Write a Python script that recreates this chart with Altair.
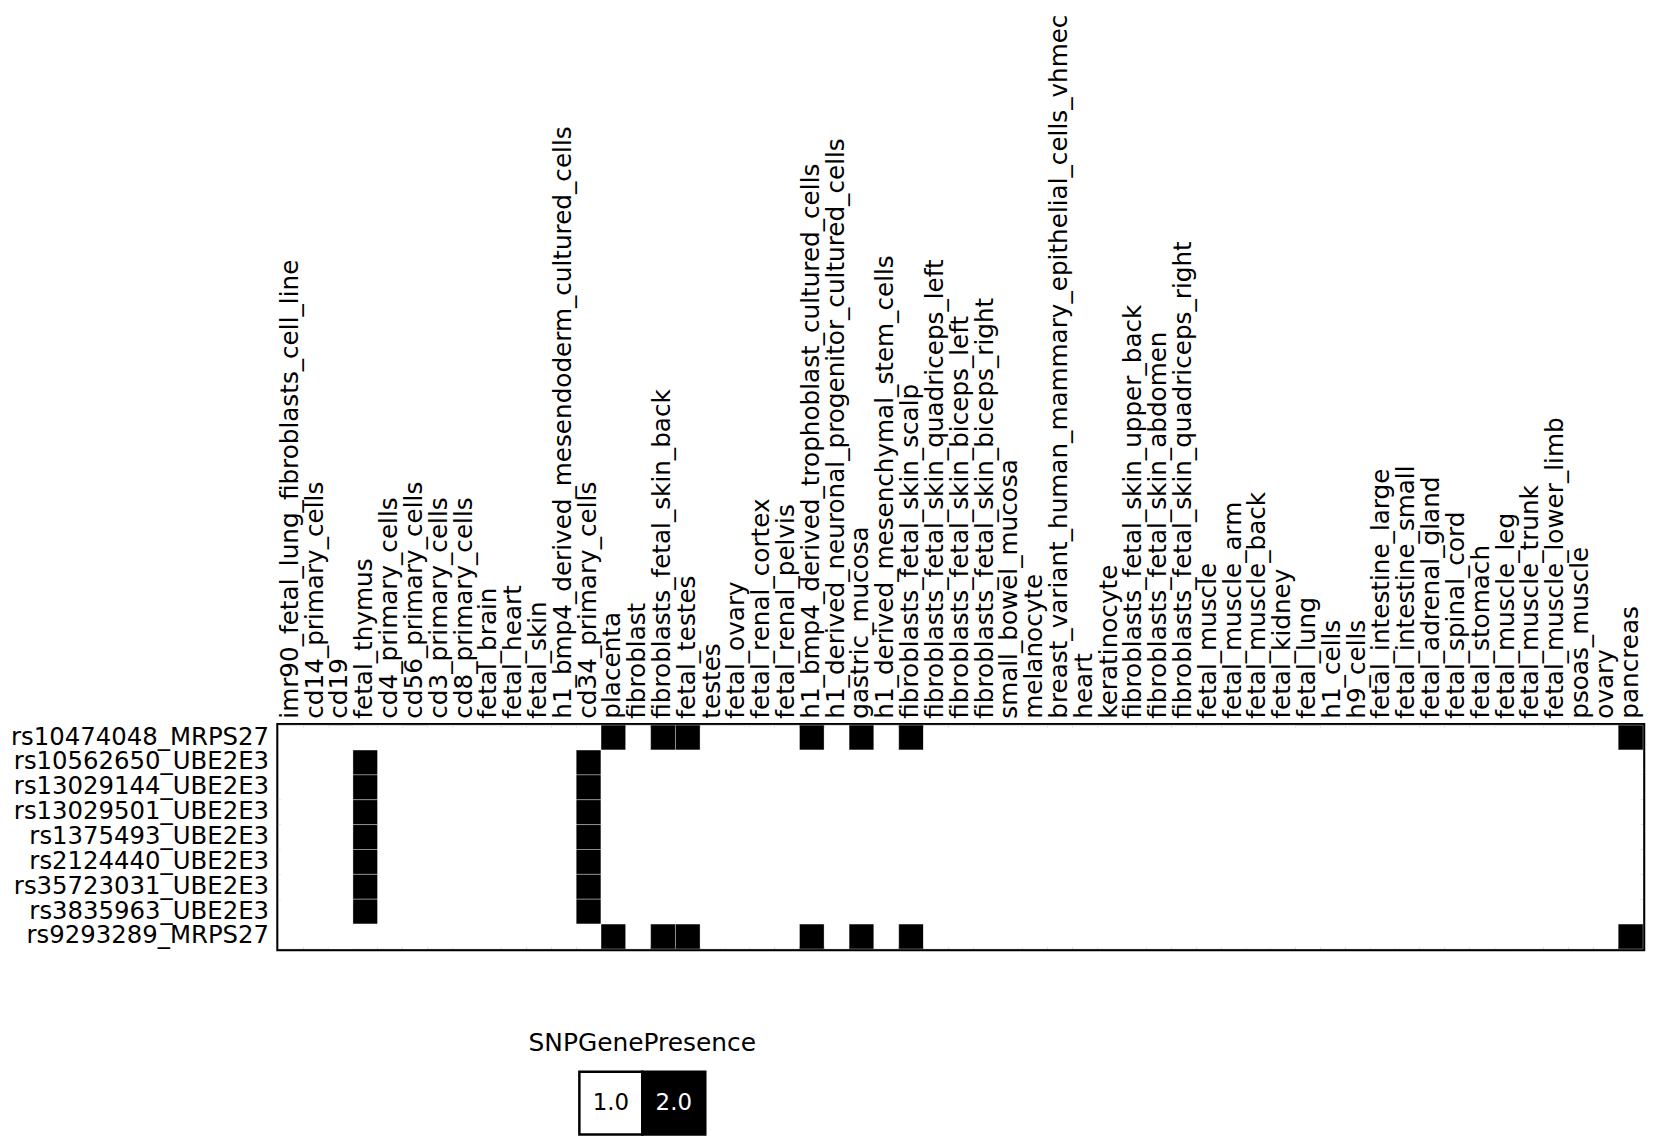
import altair as alt
import pandas as pd

tissues = [
    "imr90_fetal_lung_fibroblasts_cell_line", "cd14_primary_cells", "cd19", "fetal_thymus",
    "cd4_primary_cells", "cd56_primary_cells", "cd3_primary_cells", "cd8_primary_cells",
    "fetal_brain", "fetal_heart", "fetal_skin", "h1_bmp4_derived_mesendoderm_cultured_cells",
    "cd34_primary_cells", "placenta", "fibroblast", "fibroblasts_fetal_skin_back",
    "fetal_testes", "testes", "fetal_ovary", "fetal_renal_cortex", "fetal_renal_pelvis",
    "h1_bmp4_derived_trophoblast_cultured_cells", "h1_derived_neuronal_progenitor_cultured_cells",
    "gastric_mucosa", "h1_derived_mesenchymal_stem_cells", "fibroblasts_fetal_skin_scalp",
    "fibroblasts_fetal_skin_quadriceps_left", "fibroblasts_fetal_skin_biceps_left",
    "fibroblasts_fetal_skin_biceps_right", "small_bowel_mucosa", "melanocyte",
    "breast_variant_human_mammary_epithelial_cells_vhmec", "heart", "keratinocyte",
    "fibroblasts_fetal_skin_upper_back", "fibroblasts_fetal_skin_abdomen",
    "fibroblasts_fetal_skin_quadriceps_right", "fetal_muscle", "fetal_muscle_arm",
    "fetal_muscle_back", "fetal_kidney", "fetal_lung", "h1_cells", "h9_cells",
    "fetal_intestine_large", "fetal_intestine_small", "fetal_adrenal_gland",
    "fetal_spinal_cord", "fetal_stomach", "fetal_muscle_leg", "fetal_muscle_trunk",
    "fetal_muscle_lower_limb", "psoas_muscle", "ovary", "pancreas",
]

snps = [
    "rs10474048_MRPS27", "rs10562650_UBE2E3", "rs13029144_UBE2E3", "rs13029501_UBE2E3",
    "rs1375493_UBE2E3", "rs2124440_UBE2E3", "rs35723031_UBE2E3", "rs3835963_UBE2E3",
    "rs9293289_MRPS27",
]

mrps27_tissues = [
    "placenta", "fibroblasts_fetal_skin_back", "fetal_testes",
    "h1_bmp4_derived_trophoblast_cultured_cells", "gastric_mucosa",
    "fibroblasts_fetal_skin_scalp", "pancreas",
]
ube2e3_tissues = ["fetal_thymus", "cd34_primary_cells"]

present = {
    "rs10474048_MRPS27": mrps27_tissues,
    "rs10562650_UBE2E3": ube2e3_tissues,
    "rs13029144_UBE2E3": ube2e3_tissues,
    "rs13029501_UBE2E3": ube2e3_tissues,
    "rs1375493_UBE2E3": ube2e3_tissues,
    "rs2124440_UBE2E3": ube2e3_tissues,
    "rs35723031_UBE2E3": ube2e3_tissues,
    "rs3835963_UBE2E3": ube2e3_tissues,
    "rs9293289_MRPS27": mrps27_tissues,
}

legend_values = [1.0, 2.0]
absent_value = 1.0
present_value = 2.0

records = []
for s in snps:
    for t in tissues:
        records.append({
            "snp": s,
            "tissue": t,
            "SNPGenePresence": present_value if t in present[s] else absent_value,
        })
df = pd.DataFrame(records)

FONT = "DejaVu Sans"
color_scale = alt.Scale(domain=legend_values, range=["white", "black"])

heat = alt.Chart(df).mark_rect(stroke="white", strokeWidth=1, strokeOpacity=0.35).encode(
    x=alt.X(
        "tissue:N", sort=tissues,
        scale=alt.Scale(paddingInner=0, paddingOuter=0),
        axis=alt.Axis(
            orient="top", title=None, labelAngle=270, labelAlign="left",
            labelBaseline="middle", labelPadding=7, ticks=False, domain=False,
            labelLimit=0, labelOverlap=False, labelFont=FONT, labelFontSize=24.8,
            labelColor="black",
        ),
    ),
    y=alt.Y(
        "snp:N", sort=snps,
        scale=alt.Scale(paddingInner=0, paddingOuter=0),
        axis=alt.Axis(
            title=None, labelPadding=10, ticks=False, domain=False, labelLimit=0,
            labelOverlap=False, labelFont=FONT, labelFontSize=24.5, labelColor="black",
        ),
    ),
    color=alt.Color("SNPGenePresence:O", scale=color_scale, legend=None),
).properties(
    width=1372, height=225,
    view=alt.ViewBackground(stroke="black", strokeWidth=4.5),
)

leg_df = pd.DataFrame({"SNPGenePresence": legend_values})
leg_base = alt.Chart(leg_df).encode(
    x=alt.X("SNPGenePresence:O", axis=None,
            scale=alt.Scale(paddingInner=0, paddingOuter=0, range=[302.5, 429.1])),
)
leg_rect = leg_base.mark_rect(stroke="black", strokeWidth=2.5).encode(
    color=alt.Color("SNPGenePresence:O", scale=color_scale, legend=None),
)
leg_text = leg_base.mark_text(font=FONT, fontSize=23, align="center", baseline="middle").encode(
    text=alt.Text("SNPGenePresence:Q", format=".1f"),
    color=alt.condition(alt.datum.SNPGenePresence > 1.5, alt.value("white"), alt.value("black")),
)
legend = alt.layer(leg_rect, leg_text).properties(
    width=731.6, height=63,
    title=alt.TitleParams(
        "SNPGenePresence", font=FONT, fontSize=25, fontWeight="normal", color="black",
        anchor="middle", baseline="alphabetic", offset=18, dy=23,
    ),
)

chart = alt.vconcat(heat, legend, spacing=123.5).resolve_scale(
    x="independent", y="independent"
).properties(
    bounds="flush",
    padding={"left": 0, "top": 0, "right": 0, "bottom": 0},
).configure(
    font=FONT, background="white"
).configure_view(
    stroke="transparent"
)

chart.save("out.html", embed_options={"renderer": "svg", "actions": False})
